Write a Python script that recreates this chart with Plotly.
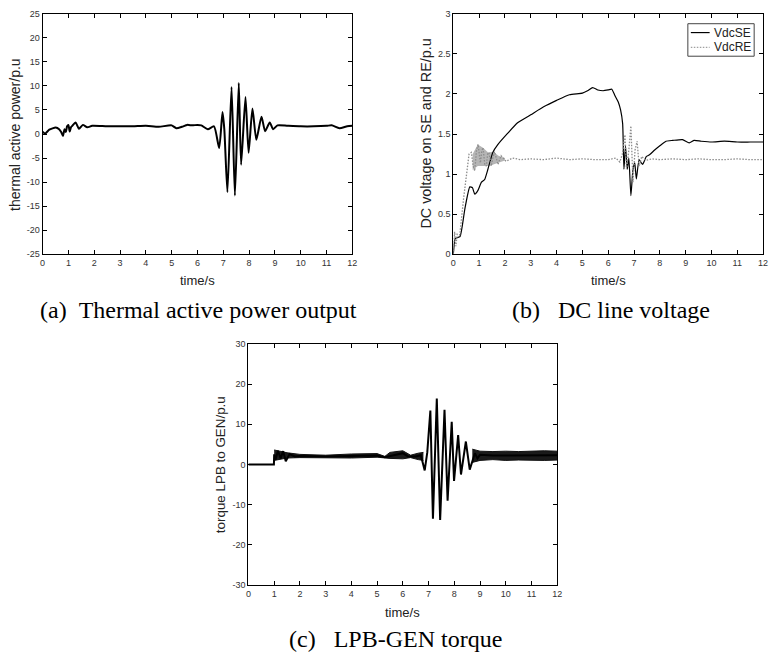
import plotly.graph_objects as go

W, H = 775, 661

# ---------------- (a) thermal active power ----------------
t_a = [0, 0.1, 0.26, 0.51, 0.64, 0.72, 0.79, 0.85, 0.9, 0.95, 1.0, 1.05, 1.1, 1.15, 1.28, 1.41,
       1.56, 1.73, 1.92, 2.5, 3.0, 3.5, 4.0, 4.5, 5.0, 5.18, 5.4, 5.6, 5.8, 6.0, 6.15, 6.4,
       6.64, 6.84, 6.97, 7.04, 7.16, 7.32, 7.45, 7.6, 7.69, 7.86, 7.98, 8.13, 8.28, 8.48,
       8.62, 8.8, 8.93, 9.1, 9.5, 10.0, 10.5, 11.0, 11.2, 11.5, 11.8, 12.0]
p_a = [0.5, 0.1, 0.9, 1.35, 1.0, 0.4, -0.4, 1.0, 0.4, 1.6, 1.9, 0.5, 1.4, 1.7, 2.4, 1.1,
       1.9, 1.4, 1.7, 1.6, 1.6, 1.6, 1.7, 1.5, 1.8, 1.2, 1.5, 1.9, 1.8, 1.9, 1.8, 1.0,
       1.6, -2.9, 4.6, 1.0, -12.1, 9.8, -12.8, 10.6, -6.4, 7.7, -3.9, 5.3, -1.2, 3.6,
       0.6, 2.4, 1.0, 1.8, 1.7, 1.6, 1.6, 1.7, 1.8, 1.2, 1.6, 1.7]

# ---------------- (b) DC line voltage ----------------
t_se = [0, 0.06, 0.1, 0.26, 0.45, 0.64, 0.74, 0.83, 0.96, 1.09, 1.21, 1.34, 1.53, 1.73, 2.11,
        2.49, 3.0, 3.5, 4.0, 4.5, 5.0, 5.2, 5.4, 5.6, 5.8, 6.0, 6.14, 6.26, 6.39, 6.48, 6.56,
        6.61, 6.67, 6.74, 6.8, 6.88, 6.96, 7.03, 7.09, 7.2, 7.33, 7.48, 7.6, 7.8, 7.99, 8.24,
        8.5, 8.88, 9.14, 9.33, 9.6, 10.0, 10.5, 11.0, 11.5, 12.0]
v_se = [0, 0.18, 0.2, 0.22, 0.57, 0.84, 0.83, 0.75, 0.8, 0.9, 0.93, 1.06, 1.27, 1.37, 1.51,
        1.64, 1.74, 1.84, 1.92, 1.99, 2.01, 2.04, 2.08, 2.05, 2.04, 2.05, 2.06, 1.98, 1.90,
        1.80, 1.63, 1.06, 1.35, 1.06, 1.2, 0.73, 1.06, 1.14, 0.94, 1.18, 1.12, 1.22, 1.24,
        1.30, 1.35, 1.41, 1.42, 1.43, 1.39, 1.42, 1.41, 1.40, 1.41, 1.40, 1.40, 1.40]

t_re = [0, 0.05, 0.1, 0.15, 0.25, 0.4, 0.61, 0.7, 0.77, 0.83, 0.9, 0.96, 1.05, 1.1, 1.15, 1.22,
        1.28, 1.33, 1.38, 1.47, 1.53, 1.6, 1.73, 1.85, 2.04, 2.3, 2.6, 3.0, 3.5, 4.0, 4.5, 5.0,
        5.5, 6.0, 6.3, 6.45, 6.55, 6.65, 6.71, 6.8, 6.88, 6.96, 7.04, 7.12, 7.2, 7.3, 7.45,
        7.7, 8.0, 8.5, 9.0, 9.5, 10.0, 10.5, 11.0, 11.5, 12.0]
v_re = [0, 0.28, 0.1, 0.25, 0.24, 0.7, 1.25, 1.27, 1.1, 1.04, 1.3, 1.37, 1.14, 1.28, 1.33, 1.12,
        1.1, 1.25, 1.27, 1.1, 1.2, 1.28, 1.12, 1.23, 1.16, 1.2, 1.18, 1.19, 1.18, 1.2, 1.18, 1.19,
        1.18, 1.18, 1.2, 1.15, 1.25, 1.49, 1.06, 1.3, 1.6, 0.9, 1.3, 1.41, 1.1, 1.22, 1.17,
        1.19, 1.18, 1.19, 1.18, 1.19, 1.18, 1.18, 1.19, 1.18, 1.18]
# envelope of the dense RE oscillation band
t_re_band = [0.75, 0.95, 1.15, 1.35, 1.55, 1.75, 2.0]
re_upper = [1.25, 1.37, 1.33, 1.27, 1.28, 1.23, 1.2]
re_lower = [1.05, 1.1, 1.1, 1.1, 1.12, 1.14, 1.17]

# ---------------- (c) LPB-GEN torque ----------------
t_c = [0, 0.99, 1.0, 1.05, 1.15, 1.25, 1.35, 1.45, 1.6, 1.8, 2.0, 3.0, 4.0, 5.0, 5.3, 5.6,
       6.0, 6.2, 6.5, 6.7, 6.85, 6.95, 7.07, 7.17, 7.32, 7.45, 7.62, 7.74, 7.9, 7.99, 8.15,
       8.26, 8.45, 8.6, 8.8, 8.9, 9.0, 9.5, 10.0, 10.5, 11.0, 11.5, 12.0]
v_c = [0, 0, 2.5, 1.2, 3.4, 1.5, 3.3, 0.8, 2.6, 2.0, 2.1, 2.0, 2.1, 2.2, 1.8, 2.3,
       2.8, 2.0, 2.0, 2.3, -1.5, 3.0, 13.4, -13.5, 16.4, -13.8, 13.6, -9.0, 10.6, -4.1, 7.3,
       -2.5, 5.7, -1.3, 2.8, 1.5, 2.4, 2.2, 2.2, 2.3, 2.2, 2.2, 2.3]
# envelopes of the dense torque ripple
t_c_band1 = [1.0, 1.5, 2.0, 3.0, 4.0, 5.0, 5.3, 5.5, 6.0, 6.3, 6.6, 6.8]
c1_upper = [3.6, 2.9, 2.5, 2.3, 2.6, 2.7, 2.0, 3.0, 3.4, 2.3, 2.8, 3.0]
c1_lower = [1.0, 1.6, 1.7, 1.7, 1.6, 1.8, 1.6, 1.5, 1.4, 1.7, 1.2, 1.0]
t_c_band2 = [8.7, 9.0, 9.5, 10.0, 10.5, 11.0, 11.5, 12.0]
c2_upper = [3.8, 3.3, 3.2, 3.3, 3.2, 3.3, 3.4, 3.3]
c2_lower = [0.5, 1.0, 1.2, 1.0, 1.1, 1.0, 1.0, 1.1]

# ---------------- ticks / texts ----------------
x_ticks = list(range(0, 13))
x_ticktext = [str(v) for v in x_ticks]
ya_ticks = [-25, -20, -15, -10, -5, 0, 5, 10, 15, 20, 25]
ya_ticktext = ["-25", "-20", "-15", "-10", "-5", "0", "5", "10", "15", "20", "25"]
yb_ticks = [0, 0.5, 1, 1.5, 2, 2.5, 3]
yb_ticktext = ["0", "0.5", "1", "1.5", "2", "2.5", "3"]
yc_ticks = [-30, -20, -10, 0, 10, 20, 30]
yc_ticktext = ["-30", "-20", "-10", "0", "10", "20", "30"]

captions = ["(a)\u00a0\u00a0Thermal active power output",
            "(b)\u00a0\u00a0\u00a0DC line voltage",
            "(c)\u00a0\u00a0\u00a0LPB-GEN torque"]
ytitles = ["thermal active power/p.u", "DC voltage on SE and RE/p.u", "torque LPB to GEN/p.u"]
legend_names = ["VdcSE", "VdcRE"]

RE_COLOR = "#8c8c8c"
RE_DASH = "1.5px,1.5px"

fig = go.Figure()

fig.add_trace(go.Scatter(x=t_a, y=p_a, mode="lines",
                         line=dict(color="black", width=2, shape="spline", smoothing=0.6),
                         xaxis="x", yaxis="y", showlegend=False))

fig.add_trace(go.Scatter(x=t_re_band, y=re_upper, mode="lines", line=dict(width=0),
                         xaxis="x2", yaxis="y2", showlegend=False, hoverinfo="skip"))
fig.add_trace(go.Scatter(x=t_re_band, y=re_lower, mode="lines", line=dict(width=0),
                         fill="tonexty", fillcolor="rgba(120,120,120,0.55)",
                         xaxis="x2", yaxis="y2", showlegend=False, hoverinfo="skip"))
fig.add_trace(go.Scatter(x=t_se, y=v_se, mode="lines", name=legend_names[0], showlegend=False,
                         line=dict(color="black", width=1.2, shape="spline", smoothing=0.5),
                         xaxis="x2", yaxis="y2"))
fig.add_trace(go.Scatter(x=t_re, y=v_re, mode="lines", name=legend_names[1], showlegend=False,
                         line=dict(color=RE_COLOR, width=1.3, dash=RE_DASH), xaxis="x2", yaxis="y2"))

for tb, up, lo in [(t_c_band1, c1_upper, c1_lower), (t_c_band2, c2_upper, c2_lower)]:
    fig.add_trace(go.Scatter(x=tb, y=up, mode="lines", line=dict(color="#111", width=1),
                             xaxis="x3", yaxis="y3", showlegend=False, hoverinfo="skip"))
    fig.add_trace(go.Scatter(x=tb, y=lo, mode="lines", line=dict(color="#111", width=1),
                             fill="tonexty", fillcolor="#1a1a1a",
                             xaxis="x3", yaxis="y3", showlegend=False, hoverinfo="skip"))
fig.add_trace(go.Scatter(x=t_c, y=v_c, mode="lines", line=dict(color="black", width=2),
                         xaxis="x3", yaxis="y3", showlegend=False))

tickfont = dict(family="Liberation Sans, Arial, sans-serif", size=9, color="#333333")


def xax(domain, anchor):
    return dict(domain=domain, anchor=anchor, range=[0, 12], tickvals=x_ticks, ticktext=x_ticktext,
                showline=True, linecolor="black", linewidth=1, mirror="ticks", ticks="inside",
                ticklen=4, tickcolor="black", tickfont=tickfont, showgrid=False, zeroline=False,
                ticklabeloverflow="allow")


def yax(domain, anchor, rng, tv, tt):
    return dict(domain=domain, anchor=anchor, range=rng, tickvals=tv, ticktext=tt,
                showline=True, linecolor="black", linewidth=1, mirror="ticks", ticks="inside",
                ticklen=4, tickcolor="black", tickfont=tickfont, showgrid=False, zeroline=False,
                ticklabeloverflow="allow")


def px(x):
    return x / W


def py(y):
    return 1 - y / H


annos = []
shapes = []
afont = dict(family="Liberation Sans, Arial, sans-serif", size=13, color="#222222")
cfont = dict(family="Liberation Serif, Times New Roman, serif", size=24, color="black")
for (x, y) in [(196.5, 280), (611.5, 280), (404, 617)]:
    annos.append(dict(text="time/s", x=px(x), y=py(y), xref="paper", yref="paper",
                      showarrow=False, xanchor="center", yanchor="middle", font=afont))
for (x, y, txt, fs) in [(12, 131, ytitles[0], 14), (427, 131, ytitles[1], 14.4), (220, 466.5, ytitles[2], 13.4)]:
    annos.append(dict(text=txt, x=px(x), y=py(y), xref="paper", yref="paper", textangle=-90,
                      showarrow=False, xanchor="center", yanchor="middle",
                      font=dict(family=afont["family"], size=fs, color="#222222")))
for (x, y, txt) in [(198, 310, captions[0]), (614, 310, captions[1]), (397, 644, captions[2])]:
    annos.append(dict(text=txt, x=px(x), y=py(y), xref="paper", yref="paper",
                      showarrow=False, xanchor="center", yanchor="middle", font=cfont))

# legend box drawn in the (b) panel (paper coordinates)
shapes.append(dict(type="rect", xref="paper", yref="paper", x0=px(692), x1=px(759), y0=py(52), y1=py(19),
                   line=dict(color="#444444", width=1), fillcolor="white", layer="above"))
shapes.append(dict(type="line", xref="paper", yref="paper", x0=px(695), x1=px(714), y0=py(28), y1=py(28),
                   line=dict(color="black", width=1.2), layer="above"))
shapes.append(dict(type="line", xref="paper", yref="paper", x0=px(695), x1=px(714), y0=py(43), y1=py(43),
                   line=dict(color="#a0a0a0", width=1.3, dash=RE_DASH), layer="above"))
lfont = dict(family="Liberation Sans, Arial, sans-serif", size=12, color="#222222")
for (y, txt) in [(28, legend_names[0]), (43, legend_names[1])]:
    annos.append(dict(text=txt, x=px(716), y=py(y), xref="paper", yref="paper",
                      showarrow=False, xanchor="left", yanchor="middle", font=lfont))

fig.update_layout(
    width=W, height=H, autosize=False,
    margin=dict(l=0, r=0, t=0, b=0),
    paper_bgcolor="white", plot_bgcolor="white",
    showlegend=False,
    xaxis=xax([px(40), px(353)], "y"),
    yaxis=yax([py(253), py(9)], "x", [-25, 25], ya_ticks, ya_ticktext),
    xaxis2=xax([px(455), px(768)], "y2"),
    yaxis2=yax([py(253), py(9)], "x2", [0, 3], yb_ticks, yb_ticktext),
    xaxis3=xax([px(248), px(560)], "y3"),
    yaxis3=yax([py(589), py(344)], "x3", [-30, 30], yc_ticks, yc_ticktext),
    annotations=annos,
    shapes=shapes,
)

fig.write_html("out.html", config={"displayModeBar": False},
               post_script="document.body.style.margin='0';document.body.style.overflow='hidden';")
